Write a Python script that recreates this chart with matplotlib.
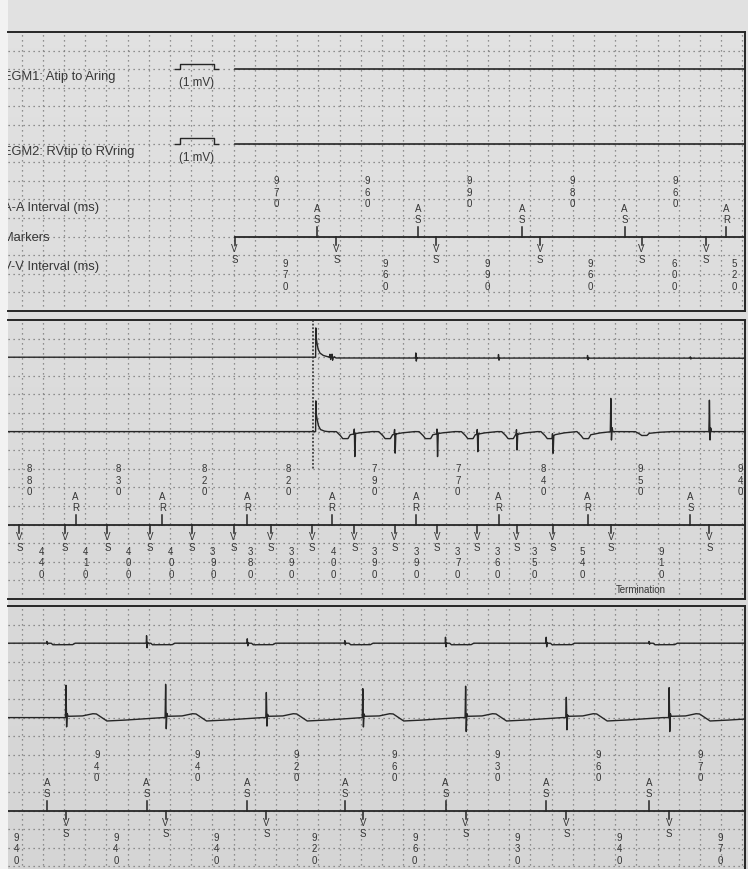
import matplotlib
matplotlib.use("Agg")
import matplotlib.pyplot as plt
import numpy as np

plt.rcParams["font.family"] = ["Liberation Sans", "DejaVu Sans"]

# ---------------- values ----------------
# times in ms along each strip, amplitudes in mV

# strip 1: header + marker channel, EGMs still flat
s1_start = 2010
s1_atrial_t = [2790, 3740, 4720, 5690, 6650]
s1_atrial_kind = ["AS", "AS", "AS", "AS", "AR"]
s1_aa = [970, 960, 990, 980, 960]
s1_vs_t = [2010, 2970, 3910, 4890, 5850, 6460]
s1_vv = [970, 960, 990, 960, 600, 520]
channel_names = ["EGM1: Atip to Aring", "EGM2: RVtip to RVring"]
row_names = ["A-A Interval (ms)", "Markers", "V-V Interval (ms)"]
cal_on, cal_off, cal_mv = 1495, 1815, 1.0

# strip 2: EGM recording kicks in mid strip
s2_trigger_t = 2750
s2_onset = 2775
s2_atrial_t = [510, 1330, 2130, 2930, 3720, 4500, 5340, 6310]
s2_atrial_kind = ["AR"] * 7 + ["AS"]
s2_p_mv = [0, 0, 0, 0.6, 1.15, 0.8, 0.6, 0.3]
s2_aa = [880, 830, 820, 820, 790, 770, 840, 950, 940]
s2_vs_t = [-20, 410, 810, 1210, 1610, 2000, 2350, 2740,
           3140, 3520, 3920, 4300, 4670, 5010, 5560, 6490]
s2_vv = [440, 410, 400, 400, 390, 380, 390, 400, 390, 390, 370, 360, 350, 540, 910]
s2_r_up = [0] * 8 + [1.0, 1.0, 1.0, 1.0, 1.0, 1.0, 6.9, 6.5]
s2_r_dn = [0] * 8 + [4.8, 4.0, 4.8, 3.7, 3.3, 3.3, 1.9, 1.9]
s2_t_mv = [0] * 7 + [1.35] * 7 + [0.75, 0]
termination_t = 5845

# strip 3: sinus rhythm after termination
s3_atrial_t = [240, 1180, 2130, 3050, 4000, 4950, 5920]
s3_atrial_kind = ["AS"] * 7
s3_p_mv = [0.4, 1.7, 1.0, 0.6, 1.35, 1.35, 0.4]
s3_aa = [940, 940, 920, 960, 930, 960, 970]
s3_vs_t = [420, 1360, 2310, 3220, 4190, 5140, 6110]
s3_vv = [940, 940, 940, 920, 960, 930, 940, 970]
s3_r_up = [6.7, 6.9, 5.2, 6.0, 6.5, 4.2, 6.2]
s3_r_dn = [2.1, 2.5, 1.9, 2.1, 3.1, 2.7, 3.1]

# waveform shapes traced from the strip: (ms from event, mV)
ONSET_A = [(0, 0), (1, 8.0), (2, 4.3), (10, 3.0), (22, 1.6), (40, 0.8), (70, 0.35),
           (110, 0.1), (130, 0), (135, 0.6), (141, -0.5), (150, 0.4), (160, -0.3),
           (175, 0.1), (190, -0.15), (4200, -0.2)]
ONSET_V = [(0, 0), (1, 6.9), (3, 3.8), (10, 2.8), (25, 1.2), (45, 0.4), (80, 0.1), (110, 0)]
T_SINUS = [(10, 0), (18, 0.25), (150, 0.3), (250, 0.75), (285, 0.72), (330, 0.1),
           (385, -0.65), (500, -0.55), (700, -0.3), (900, 0)]
A_STEP = [(40, 0), (55, -0.3), (240, -0.3), (265, 0)]


def qrs(up, dn):
    return [(-5, 0), (0, up), (5, -dn), (11, 0.12 * up), (18, 0)]


def t_neg(d):
    return [(230, 0), (265, -0.5 * d), (290, -d), (340, -d), (360, -0.45 * d),
            (440, -0.2 * d), (560, 0)]


def p_spike(a):
    return [(-5, 0), (-2, 0.15 * a), (0, a), (4, -0.6 * a), (9, 0.1 * a), (15, 0)]


# ---------------- layout ----------------
W, H = 748, 869
ROW = 18.6            # px per grid row
GAIN = 5.2 / ROW      # rows per mV (1 mV cal pulse ~5 px)
MS_PX = 0.106
T0 = (8 - 21.5) / MS_PX
T1 = (745 - 21.5) / MS_PX
INK = "#262626"
TXT = "#363636"
GRID = "#747474"

fig = plt.figure(figsize=(W / 100, H / 100), dpi=100, facecolor="#f2f2f2")

# photographed paper: slightly darker toward the bottom
bg = fig.add_axes([8 / W, 0, 1 - 8 / W, 1], zorder=-5)
g = np.repeat(np.linspace(0.885, 0.835, 200)[:, None], 4, axis=1)
bg.imshow(np.stack([g, g, g], axis=-1), aspect="auto", extent=[0, 1, 0, 1])
bg.axis("off")


def strip_axes(top):
    ax = fig.add_axes([8 / W, 1 - (top + 15 * ROW) / H, (745 - 8) / W, 15 * ROW / H])
    ax.set_xlim(T0, T1)
    ax.set_ylim(15, 0)
    ax.set_facecolor("none")
    ax.set_xticks([])
    ax.set_yticks([])
    ax.spines["left"].set_visible(False)
    for s in ("top", "right", "bottom"):
        ax.spines[s].set_color(INK)
        ax.spines[s].set_linewidth(1.4)
    for tg in np.arange(0, T1, 200):
        ax.axvline(tg, color=GRID, lw=0.9, ls=(0, (1, 3)), zorder=0)
    for r in range(1, 15):
        ax.axhline(r, color=GRID, lw=0.9, ls=(0, (1, 3)), zorder=0)
    return ax


def egm_trace(events, onset=None):
    t = np.arange(T0, T1 + 1.0)
    mv = np.zeros_like(t)
    for t0, shape in events:
        dt, amp = np.array(shape, dtype=float).T
        mv += np.interp(t, t0 + dt, amp, left=0.0, right=0.0)
    if onset is not None:
        mv[t < onset] = 0
    return t, mv


def draw_markers(ax, atrial_t, kinds, vs_t, line_from):
    ax.plot([line_from, T1], [11, 11], color=INK, lw=1.3)
    for t, k in zip(atrial_t, kinds):
        ax.plot([t, t], [10.5, 11], color=INK, lw=1.1)
        ax.text(t, 9.5, k[0], ha="center", va="center", fontsize=7, color=TXT)
        ax.text(t, 10.1, k[1], ha="center", va="center", fontsize=7, color=TXT)
    for t in vs_t:
        ax.plot([t, t], [11, 11.45], color=INK, lw=1.1)
        ax.text(t, 11.68, "V", ha="center", va="center", fontsize=7, color=TXT)
        ax.text(t, 12.28, "S", ha="center", va="center", fontsize=7, color=TXT)


def draw_intervals(ax, events, values, first, rows, start=None):
    # each value sits at the middle of the interval it measures
    ends = list(events[first:])
    while len(ends) < len(values):
        ends.append(ends[-1] + values[len(ends)])
    for e, v in zip(ends, values):
        s = e - v if start is None else max(e - v, start)
        c = (s + e) / 2
        for r, ch in zip(rows, str(v)):
            ax.text(c, r, ch, ha="center", va="center", fontsize=7, color=TXT)


AA_ROWS = [8.0, 8.63, 9.26]
VV_ROWS = [12.45, 13.08, 13.71]

# ---------------- strip 1 ----------------
ax1 = strip_axes(32)
for base, name, lab_row, unit_row in zip([2, 6], channel_names, [2.57, 6.59], [2.92, 6.92]):
    ax1.text(-170, lab_row, name, fontsize=9.3, color=TXT, va="baseline", clip_on=True)
    ax1.plot([cal_on - 47, cal_on, cal_on, cal_off, cal_off, cal_off + 39],
             np.array([0, 0, cal_mv, cal_mv, 0, 0]) * -GAIN + base, color=INK, lw=1.0)
    ax1.text((cal_on + cal_off) / 2, unit_row, "(1 mV)", fontsize=8.4, color=TXT,
             ha="center", va="baseline")
    ax1.plot([s1_start, T1], [base, base], color=INK, lw=1.2)
for name, r in zip(row_names, [9.62, 11.23, 12.79]):
    ax1.text(-170, r, name, fontsize=9.3, color=TXT, va="baseline", clip_on=True)
draw_markers(ax1, s1_atrial_t, s1_atrial_kind, s1_vs_t, s1_start)
draw_intervals(ax1, s1_atrial_t, s1_aa, 0, AA_ROWS, start=s1_start)
draw_intervals(ax1, s1_vs_t, s1_vv, 1, VV_ROWS)

# ---------------- strip 2 ----------------
ax2 = strip_axes(320)
ev_a = [(s2_onset, ONSET_A)] + [(t, p_spike(a)) for t, a in zip(s2_atrial_t, s2_p_mv) if a > 0]
t, mv = egm_trace(ev_a, s2_onset)
ax2.plot(t, 2 - mv * GAIN, color=INK, lw=1.0)
ev_v = [(s2_onset, ONSET_V)]
for tv, up, dn, tw in zip(s2_vs_t, s2_r_up, s2_r_dn, s2_t_mv):
    if up > 0:
        ev_v.append((tv, qrs(up, dn)))
    if tw > 0:
        ev_v.append((tv, t_neg(tw)))
t, mv = egm_trace(ev_v, s2_onset)
ax2.plot(t, 6 - mv * GAIN, color=INK, lw=1.0)
ax2.plot([s2_trigger_t, s2_trigger_t], [0, 8], color=INK, lw=1.1, ls=(0, (1.2, 1.2)))
draw_markers(ax2, s2_atrial_t, s2_atrial_kind, s2_vs_t, T0)
draw_intervals(ax2, s2_atrial_t, s2_aa, 0, AA_ROWS)
draw_intervals(ax2, s2_vs_t, s2_vv, 1, VV_ROWS)
ax2.text(termination_t, 14.5, "Termination", ha="center", va="center", fontsize=7, color=TXT)

# ---------------- strip 3 ----------------
ax3 = strip_axes(606)
ev_a = [(t, p_spike(a)) for t, a in zip(s3_atrial_t, s3_p_mv)] + [(t, A_STEP) for t in s3_atrial_t]
t, mv = egm_trace(ev_a)
ax3.plot(t, 2 - mv * GAIN, color=INK, lw=1.0)
ev_v = [(tv, qrs(up, dn)) for tv, up, dn in zip(s3_vs_t, s3_r_up, s3_r_dn)]
ev_v += [(tv, T_SINUS) for tv in s3_vs_t]
t, mv = egm_trace(ev_v)
ax3.plot(t, 6 - mv * GAIN, color=INK, lw=1.0)
draw_markers(ax3, s3_atrial_t, s3_atrial_kind, s3_vs_t, T0)
draw_intervals(ax3, s3_atrial_t, s3_aa, 1, AA_ROWS)
draw_intervals(ax3, s3_vs_t, s3_vv, 0, VV_ROWS)

fig.savefig("out.png", dpi=100, facecolor=fig.get_facecolor())
